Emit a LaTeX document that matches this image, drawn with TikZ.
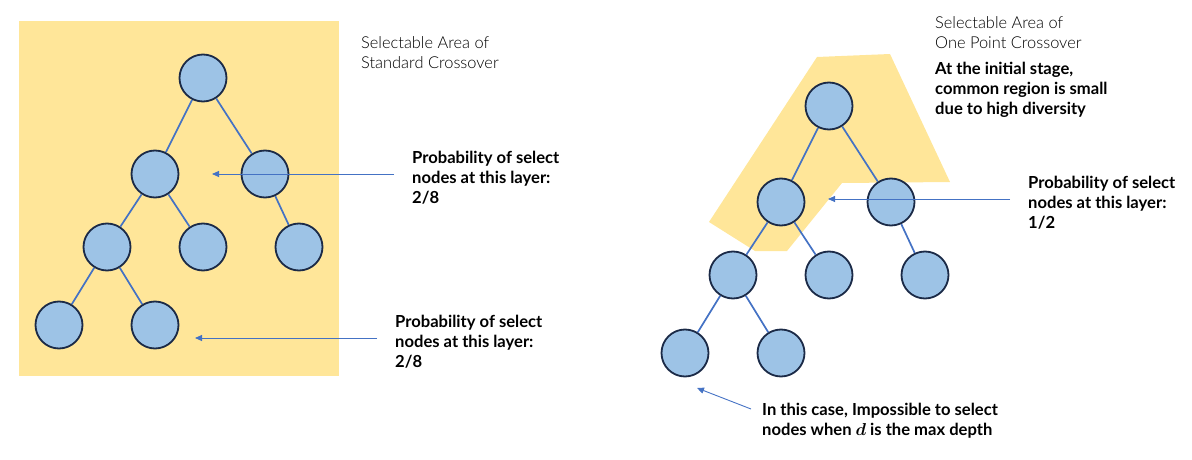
\documentclass[tikz,border=0pt]{standalone}
\usepackage{fontspec}
\setmainfont{Lato}
\newfontfamily\lightfont{Lato Light}
\usetikzlibrary{arrows.meta}
\definecolor{areaY}{HTML}{FFE699}
\definecolor{nodeF}{HTML}{9DC3E6}
\definecolor{nodeD}{HTML}{1B2A47}
\definecolor{edgeB}{HTML}{4472C4}
\tikzset{
  tn/.style={circle, minimum size=47pt, inner sep=0pt, fill=nodeF, draw=nodeD, line width=1.8pt},
  te/.style={draw=edgeB, line width=1.7pt},
  pointer/.style={draw=edgeB, line width=0.9pt, -{Triangle[length=7pt,width=6pt]}},
  boldtxt/.style={anchor=north west, inner sep=0pt, align=left, font=\fontsize{16.6}{20}\selectfont\bfseries},
  lighttxt/.style={anchor=north west, inner sep=0pt, align=left, font=\fontsize{16.4}{20}\selectfont\lightfont},
}
\begin{document}
\begin{tikzpicture}[x=1pt,y=-1pt]
\useasboundingbox (0,0) rectangle (1192,460);
% left selectable area
\fill[areaY] (19,21) rectangle (339,376);
% right selectable area
\fill[areaY] (817,57) -- (890,54) -- (950,182) -- (842,183) -- (787,251) -- (755,251) -- (709,222) -- cycle;

% left tree
\node[tn] (a1) at (203,78) {};
\node[tn] (a2) at (155,174) {};
\node[tn] (a3) at (265,174) {};
\node[tn] (a4) at (107,247) {};
\node[tn] (a5) at (203,247) {};
\node[tn] (a6) at (299,247) {};
\node[tn] (a7) at (59,325) {};
\node[tn] (a8) at (155,325) {};
\draw[te] (a1) -- (a2);
\draw[te] (a1) -- (a3);
\draw[te] (a2) -- (a4);
\draw[te] (a2) -- (a5);
\draw[te] (a3) -- (a6);
\draw[te] (a4) -- (a7);
\draw[te] (a4) -- (a8);

% right tree
\node[tn] (b1) at (829,106) {};
\node[tn] (b2) at (781,202) {};
\node[tn] (b3) at (891,202) {};
\node[tn] (b4) at (733,275) {};
\node[tn] (b5) at (829,275) {};
\node[tn] (b6) at (925,275) {};
\node[tn] (b7) at (685,353) {};
\node[tn] (b8) at (781,353) {};
\draw[te] (b1) -- (b2);
\draw[te] (b1) -- (b3);
\draw[te] (b2) -- (b4);
\draw[te] (b2) -- (b5);
\draw[te] (b3) -- (b6);
\draw[te] (b4) -- (b7);
\draw[te] (b4) -- (b8);

% texts
\node[lighttxt] (t1) at (361,36) {Selectable Area of\\Standard Crossover};
\node[boldtxt] (t2) at (412,151) {Probability of select\\nodes at this layer:\\2/8};
\node[boldtxt] (t3) at (395,315) {Probability of select\\nodes at this layer:\\2/8};
\node[lighttxt] (t4) at (935,16) {Selectable Area of\\One Point Crossover};
\node[boldtxt] (t5) at (935,62) {At the initial stage,\\common region is small\\due to high diversity};
\node[boldtxt] (t6) at (1028,176) {Probability of select\\nodes at this layer:\\1/2};
\node[boldtxt] (t7) at (762,403) {In this case, Impossible to select\\nodes when {\boldmath$d$} is the max depth};

% pointers
\coordinate (p1s) at (394,174);
\coordinate (p1e) at (212,174);
\coordinate (p2s) at (377,338);
\coordinate (p2e) at (195,338);
\coordinate (p3s) at (1010,199);
\coordinate (p3e) at (828,199);
\coordinate (p4s) at (751,409);
\coordinate (p4e) at (697,388);
\draw[pointer] (p1s) -- (p1e);
\draw[pointer] (p2s) -- (p2e);
\draw[pointer] (p3s) -- (p3e);
\draw[pointer] (p4s) -- (p4e);
\end{tikzpicture}
\end{document}
